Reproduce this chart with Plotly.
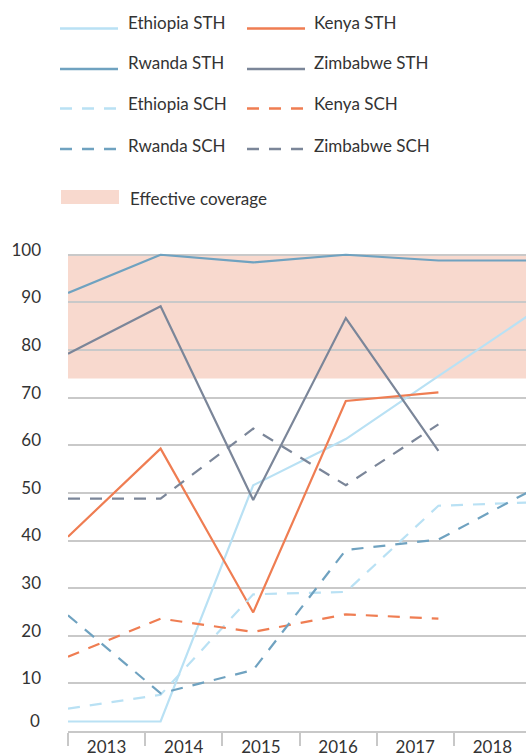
import plotly.graph_objects as go

years = ["2013", "2014", "2015", "2016", "2017", "2018"]
x_idx = [0, 1, 2, 3, 4, 5]

ethiopia_sth = [2, 2, 51.6, 61.3, 74.5, 87.6]
kenya_sth = [40.8, 59.3, 24.9, 69.3, 71.1, None]
rwanda_sth = [92, 100, 98.4, 100, 98.8, 98.8]
zimbabwe_sth = [79.2, 89.2, 48.5, 86.7, 58.8, None]
ethiopia_sch = [4.7, 7.6, 28.7, 29.2, 47.3, 48]
kenya_sch = [15.6, 23.6, 20.8, 24.5, 23.6, None]
rwanda_sch = [24.3, 7.9, 12.8, 38, 40.2, 50.5]
zimbabwe_sch = [48.8, 48.8, 63.5, 51.6, 64.4, None]

effective_low = 74
effective_high = 100
y_ticks = [0, 10, 20, 30, 40, 50, 60, 70, 80, 90, 100]

C_ETH = "#b9e1f4"
C_KEN = "#ef7d52"
C_RWA = "#6fa2c0"
C_ZIM = "#7b8699"
C_SHADE = "#f8d9ce"
TXT = "#333333"
FONT = "Lato"

series = [
    ("Ethiopia STH", ethiopia_sth, C_ETH, "solid"),
    ("Kenya STH", kenya_sth, C_KEN, "solid"),
    ("Rwanda STH", rwanda_sth, C_RWA, "solid"),
    ("Zimbabwe STH", zimbabwe_sth, C_ZIM, "solid"),
    ("Ethiopia SCH", ethiopia_sch, C_ETH, "12px,10px"),
    ("Kenya SCH", kenya_sch, C_KEN, "12px,10px"),
    ("Rwanda SCH", rwanda_sch, C_RWA, "12px,10px"),
    ("Zimbabwe SCH", zimbabwe_sch, C_ZIM, "12px,10px"),
]

W, H = 526, 756
PLOT_L, PLOT_R, PLOT_T, PLOT_B = 68, 526, 250, 731
ML, MR, MT, MB = PLOT_L, W - PLOT_R, PLOT_T, H - PLOT_B
PW, PH = PLOT_R - PLOT_L, PLOT_B - PLOT_T

n_cat = len(years)
n_int = len(x_idx) - 1
cat_w = n_int / n_cat
step_px = 92.6
x_max = PW / step_px

fig = go.Figure()
for name, vals, col, dash in series:
    fig.add_trace(go.Scatter(x=x_idx, y=vals, mode="lines", name=name,
                             line=dict(color=col, width=2.2, dash=dash),
                             connectgaps=False, showlegend=False, hoverinfo="skip"))

fig.add_shape(type="rect", xref="paper", yref="y", x0=0, x1=1,
              y0=effective_low, y1=effective_high, fillcolor=C_SHADE,
              line=dict(width=0), layer="below")

def px2paper(px, py):
    return (px - PLOT_L) / PW, (PLOT_B - py) / PH

line_y = [28.5, 69, 108.5, 149]
text_y = [23, 63, 103.5, 145]
leg_cols = [(60, 118, 126), (247, 305, 312)]
order = [[0, 1], [2, 3], [4, 5], [6, 7]]
for r, pair in enumerate(order):
    for c, si in enumerate(pair):
        name, vals, col, dash = series[si]
        x0p, x1p, tx = leg_cols[c]
        a0, b0 = px2paper(x0p, line_y[r])
        a1, _ = px2paper(x1p, line_y[r])
        fig.add_shape(type="line", xref="paper", yref="paper", x0=a0, x1=a1,
                      y0=b0, y1=b0, line=dict(color=col, width=2.4, dash=dash))
        ta, tb = px2paper(tx, text_y[r])
        fig.add_annotation(xref="paper", yref="paper", x=ta, y=tb, text=name,
                           showarrow=False, xanchor="left", yanchor="middle",
                           font=dict(family=FONT, size=17, color=TXT))

ra0, rb0 = px2paper(61, 190)
ra1, rb1 = px2paper(119, 204)
fig.add_shape(type="rect", xref="paper", yref="paper", x0=ra0, x1=ra1,
              y0=rb1, y1=rb0, fillcolor=C_SHADE, line=dict(width=0))
ta, tb = px2paper(128, 198)
fig.add_annotation(xref="paper", yref="paper", x=ta, y=tb, text="Effective coverage",
                   showarrow=False, xanchor="left", yanchor="middle",
                   font=dict(family=FONT, size=17, color=TXT))

# the zero label sits a little higher than the others in the original
y_ticktext = [str(v) for v in y_ticks]
zero_label = y_ticktext[0]
y_ticktext[0] = ""
za, _ = px2paper(42, 0)
fig.add_annotation(xref="paper", yref="y", x=za, y=y_ticks[0], yshift=11,
                   text=zero_label, showarrow=False, xanchor="right", yanchor="middle",
                   font=dict(family=FONT, size=17, color=TXT))

fig.update_layout(
    width=W, height=H,
    margin=dict(l=ML, r=MR, t=MT, b=MB, pad=0),
    plot_bgcolor="white", paper_bgcolor="white",
    font=dict(family=FONT, size=17, color=TXT),
    showlegend=False,
    xaxis=dict(range=[0, x_max], tickmode="array",
               tickvals=[(i + 0.5) * cat_w for i in range(n_cat)], ticktext=years,
               ticks="", showgrid=False, zeroline=False,
               showline=True, linecolor="#c8c8c8", linewidth=1.5,
               ticklabelstandoff=0,
               minor=dict(tickmode="array", tickvals=[i * cat_w for i in range(n_cat + 1)],
                          ticks="outside", ticklen=13, tickcolor="#c8c8c8", tickwidth=1.5,
                          showgrid=False)),
    yaxis=dict(range=[0, 101], tickmode="array", tickvals=y_ticks, ticktext=y_ticktext,
               showgrid=True, gridcolor="#c9c9c9", gridwidth=1.5,
               zeroline=False, showline=False, ticks="",
               ticklabelstandoff=26, ticklabelshift=-5),
)

fig.write_html("out.html", config={"displayModeBar": False},
               post_script="document.body.style.margin='0';document.body.style.overflow='hidden';")
